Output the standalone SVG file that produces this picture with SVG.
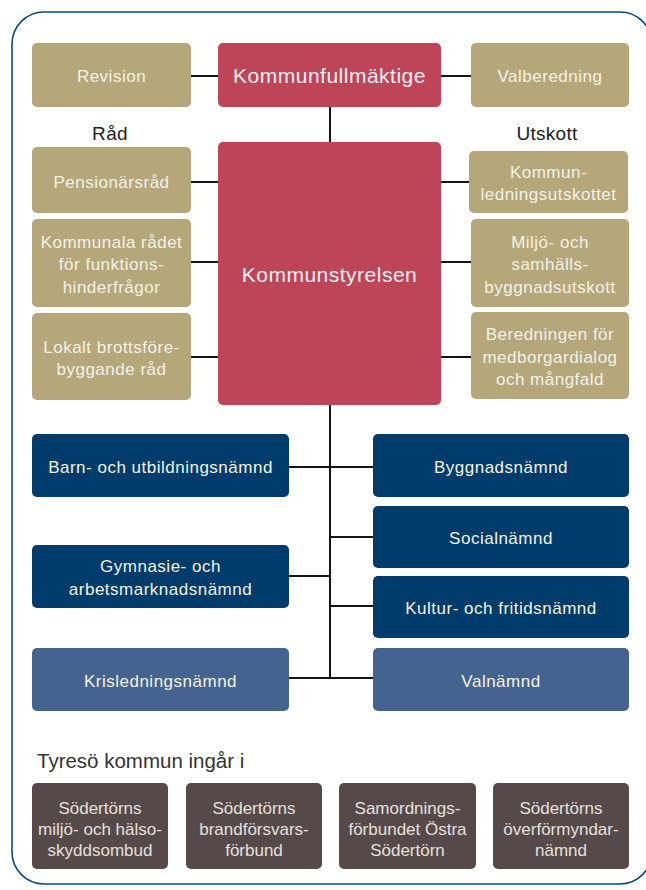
<svg xmlns="http://www.w3.org/2000/svg" width="646" height="890" viewBox="0 0 646 890">
<style>
.t{font-family:"Liberation Sans",Arial,sans-serif;text-anchor:middle;}
.tan{fill:#b5a77a;}
.red{fill:#be4558;}
.dk{fill:#003c6b;}
.md{fill:#44638f;}
.br{fill:#554a49;}
.lt{fill:#f6f2e8;font-size:17px;letter-spacing:0.5px;}
.big{fill:#fcf0f2;font-size:21px;letter-spacing:0.5px;}
.bt{fill:#e6e0dc;font-size:17px;}
.hd{fill:#222;font-size:19px;letter-spacing:0.3px;}
.c{stroke:#151515;stroke-width:2;fill:none;}
</style>
<rect x="12" y="12" width="640" height="872" rx="32" fill="#fff" stroke="#0b4a7c" stroke-width="1.6"/>
<g id="connectors" class="c">
<path d="M191 76H218M441 76H471M330 107V142"/>
<path d="M191 182H218M191 262H218M191 357H218"/>
<path d="M441 182H469M441 262H471M441 357H471"/>
<path d="M330 405V678"/>
<path d="M289 467H330M289 576H330M289 678H373"/>
<path d="M330 467H373M330 537H373M330 606H373"/>
</g>
<g id="revision"><rect class="tan" x="32" y="43" width="159" height="64" rx="5"/><text class="t lt" x="111.5" y="82">Revision</text></g>
<g id="kommunfullmaktige"><rect class="red" x="218" y="43" width="223" height="64" rx="5"/><text class="t big" x="329.5" y="83">Kommunfullmäktige</text></g>
<g id="valberedning"><rect class="tan" x="471" y="43" width="158" height="64" rx="5"/><text class="t lt" x="550" y="82">Valberedning</text></g>
<text class="t hd" x="110" y="140">Råd</text>
<text class="t hd" x="547" y="140">Utskott</text>
<g id="pensionarsrad"><rect class="tan" x="32" y="147" width="159" height="66" rx="5"/><text class="t lt" x="111.5" y="188">Pensionärsråd</text></g>
<g id="kommunala-radet"><rect class="tan" x="32" y="219" width="159" height="88" rx="5"/><text class="t lt" x="111.5" y="248">Kommunala rådet</text><text class="t lt" x="111.5" y="270">för funktions-</text><text class="t lt" x="111.5" y="292.5">hinderfrågor</text></g>
<g id="lokalt"><rect class="tan" x="32" y="313" width="159" height="87" rx="5"/><text class="t lt" x="111.5" y="353">Lokalt brottsföre-</text><text class="t lt" x="111.5" y="375">byggande råd</text></g>
<g id="kommunstyrelsen"><rect class="red" x="218" y="142" width="223" height="263" rx="5"/><text class="t big" x="329.5" y="282">Kommunstyrelsen</text></g>
<g id="kommunledningsutskottet"><rect class="tan" x="469" y="151" width="159" height="62" rx="5"/><text class="t lt" x="548.5" y="178">Kommun-</text><text class="t lt" x="548.5" y="200">ledningsutskottet</text></g>
<g id="miljo"><rect class="tan" x="471" y="219" width="158" height="88" rx="5"/><text class="t lt" x="550" y="248">Miljö- och</text><text class="t lt" x="550" y="270">samhälls-</text><text class="t lt" x="550" y="292.5">byggnadsutskott</text></g>
<g id="beredningen"><rect class="tan" x="471" y="312" width="158" height="87" rx="5"/><text class="t lt" x="550" y="340">Beredningen för</text><text class="t lt" x="550" y="362.5">medborgardialog</text><text class="t lt" x="550" y="385">och mångfald</text></g>
<g id="barn"><rect class="dk" x="32" y="434" width="257" height="63" rx="5"/><text class="t lt" x="160.5" y="473">Barn- och utbildningsnämnd</text></g>
<g id="gymnasie"><rect class="dk" x="32" y="545" width="257" height="63" rx="5"/><text class="t lt" x="160.5" y="571.5">Gymnasie- och</text><text class="t lt" x="160.5" y="595">arbetsmarknadsnämnd</text></g>
<g id="krisledning"><rect class="md" x="32" y="648" width="257" height="63" rx="5"/><text class="t lt" x="160.5" y="686.5">Krisledningsnämnd</text></g>
<g id="byggnad"><rect class="dk" x="373" y="434" width="256" height="63" rx="5"/><text class="t lt" x="501" y="473">Byggnadsnämnd</text></g>
<g id="social"><rect class="dk" x="373" y="506" width="256" height="62" rx="5"/><text class="t lt" x="501" y="544">Socialnämnd</text></g>
<g id="kultur"><rect class="dk" x="373" y="576" width="256" height="62" rx="5"/><text class="t lt" x="501" y="614">Kultur- och fritidsnämnd</text></g>
<g id="valnamnd"><rect class="md" x="373" y="648" width="256" height="63" rx="5"/><text class="t lt" x="501" y="686.5">Valnämnd</text></g>
<text x="37" y="768" style="font-family:'Liberation Sans',Arial,sans-serif;font-size:20.5px;fill:#333">Tyresö kommun ingår i</text>
<g id="smoh"><rect class="br" x="32" y="783" width="136" height="86" rx="5"/><text class="t bt" x="100" y="814">Södertörns</text><text class="t bt" x="100" y="835">miljö- och hälso-</text><text class="t bt" x="100" y="856">skyddsombud</text></g>
<g id="brand"><rect class="br" x="186" y="783" width="136" height="86" rx="5"/><text class="t bt" x="254" y="814">Södertörns</text><text class="t bt" x="254" y="835">brandförsvars-</text><text class="t bt" x="254" y="856">förbund</text></g>
<g id="samordning"><rect class="br" x="339" y="783" width="137" height="86" rx="5"/><text class="t bt" x="407.5" y="814">Samordnings-</text><text class="t bt" x="407.5" y="835">förbundet Östra</text><text class="t bt" x="407.5" y="856">Södertörn</text></g>
<g id="overformyndar"><rect class="br" x="493" y="783" width="136" height="86" rx="5"/><text class="t bt" x="561" y="814">Södertörns</text><text class="t bt" x="561" y="835">överförmyndar-</text><text class="t bt" x="561" y="856">nämnd</text></g>
</svg>
